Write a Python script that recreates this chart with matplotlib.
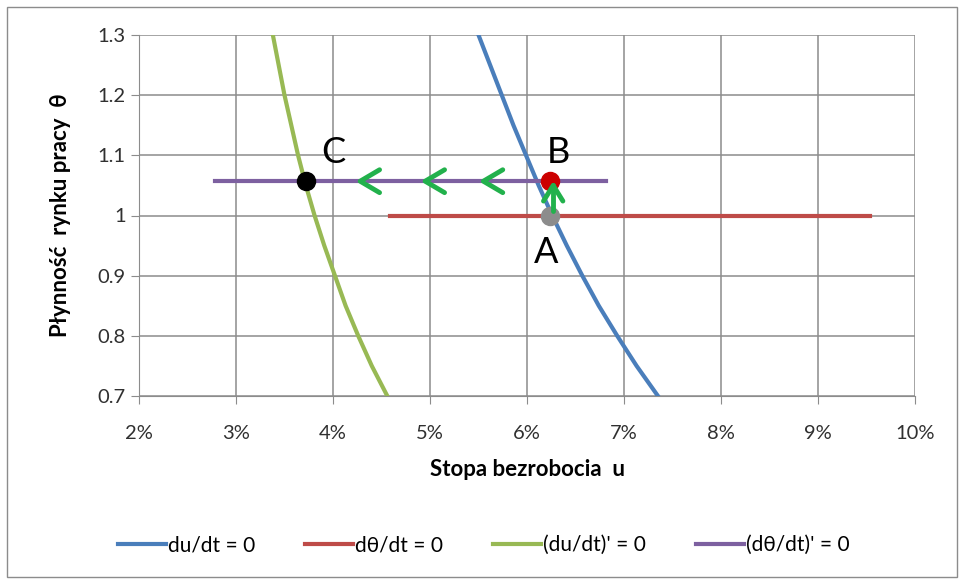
import numpy as np
import matplotlib.pyplot as plt
from matplotlib.patches import Rectangle

plt.rcParams['font.family'] = ['Lato', 'DejaVu Sans']

# du/dt = 0 (blue)
theta_blue = [1.3, 1.25, 1.2, 1.15, 1.1, 1.05, 1.0, 0.95, 0.9, 0.85, 0.8, 0.75, 0.7]
u_blue = [5.50, 5.62, 5.74, 5.86, 5.99, 6.12, 6.26, 6.41, 6.57, 6.74, 6.93, 7.13, 7.35]
# (du/dt)' = 0 (green)
theta_green = [1.3, 1.25, 1.2, 1.15, 1.1, 1.05, 1.0, 0.95, 0.9, 0.85, 0.8, 0.75, 0.7]
u_green = [3.38, 3.44, 3.50, 3.57, 3.64, 3.72, 3.81, 3.91, 4.02, 4.13, 4.26, 4.40, 4.56]
# dθ/dt = 0 (red)
u_red = [4.59, 9.54]
theta_red = [1.0, 1.0]
# (dθ/dt)' = 0 (purple)
u_purple = [2.78, 6.81]
theta_purple = [1.057, 1.057]

# points A, B, C
pt_labels = ['A', 'B', 'C']
pt_u = [6.24, 6.24, 3.72]
pt_theta = [1.0, 1.057, 1.057]
pt_colors = ['#8c8c8c', '#cc0000', '#000000']
label_u = [6.20, 6.32, 4.0]
label_theta = [0.938, 1.105, 1.105]

# hand-drawn green arrows
chevron_u = [4.28, 4.95, 5.55]
up_arrow_u = 6.27

fig = plt.figure(figsize=(9.67, 5.84), dpi=100)
ax = fig.add_axes([139/967, 1-396/584, (915-139)/967, (396-35)/584])

ax.plot(u_blue, theta_blue, color='#4a7ebb', lw=3, label='du/dt = 0', zorder=3)
ax.plot(u_red, theta_red, color='#be4b48', lw=3, label='dθ/dt = 0', zorder=3)
ax.plot(u_green, theta_green, color='#98b954', lw=3, label="(du/dt)' = 0", zorder=3)
ax.plot(u_purple, theta_purple, color='#7d60a0', lw=3, label="(dθ/dt)' = 0", zorder=3)

for u, t, c in zip(pt_u, pt_theta, pt_colors):
    ax.plot(u, t, 'o', color=c, ms=13, zorder=5)

for lab, u, t in zip(pt_labels, label_u, label_theta):
    ax.text(u, t, lab, fontsize=26, ha='center', va='center', zorder=6)

green = '#22b14c'
for cu in chevron_u:
    ax.plot([cu + 0.2, cu, cu + 0.2], [1.076, 1.057, 1.038], color=green, lw=3.5,
            solid_capstyle='round', solid_joinstyle='round', zorder=6)
ax.plot([up_arrow_u, up_arrow_u], [1.008, 1.05], color=green, lw=3.5, solid_capstyle='round', zorder=6)
ax.plot([up_arrow_u - 0.1, up_arrow_u, up_arrow_u + 0.1], [1.024, 1.05, 1.024], color=green, lw=3.5,
        solid_capstyle='round', solid_joinstyle='round', zorder=6)

ax.set_xlim(2, 10)
ax.set_ylim(0.7, 1.3)
ax.set_xticks(np.arange(2, 11))
ax.set_xticklabels([f'{i}%' for i in range(2, 11)])
ax.set_yticks([0.7, 0.8, 0.9, 1.0, 1.1, 1.2, 1.3])
ax.set_yticklabels(['0.7', '0.8', '0.9', '1', '1.1', '1.2', '1.3'])
ax.grid(True, color='#8c8c8c', lw=1.1)
ax.set_axisbelow(True)
for s in ['top', 'right']:
    ax.spines[s].set_visible(False)
for s in ['left', 'bottom']:
    ax.spines[s].set_color('#8c8c8c')
ax.tick_params(axis='both', labelsize=14.5, color='#8c8c8c', labelcolor='#303030',
               length=6, direction='out')
ax.tick_params(axis='x', pad=15)
ax.set_xlabel('Stopa bezrobocia  u', fontsize=16, fontweight='bold', labelpad=12)
ax.set_ylabel('Płynność  rynku pracy  θ', fontsize=16, fontweight='bold', labelpad=19)

fig.legend(loc='center', bbox_to_anchor=(0.5, 1-545/584), ncol=4, frameon=False,
           fontsize=15, handlelength=2.3, handletextpad=0.1, columnspacing=2.4)

fig.patches.append(Rectangle((7/967, 7/584), 950/967, 570/584, transform=fig.transFigure,
                             fill=False, edgecolor='#8c8c8c', lw=1))

fig.savefig('out.png', dpi=100)
